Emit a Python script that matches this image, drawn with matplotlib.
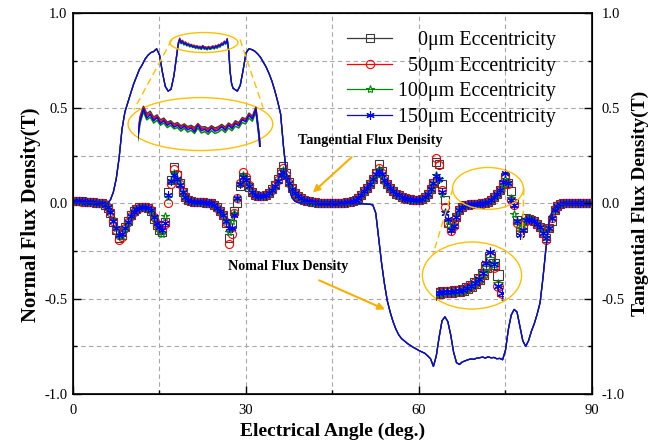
import numpy as np
import matplotlib
matplotlib.use("Agg")
import matplotlib.pyplot as plt
from matplotlib.patches import Ellipse
from matplotlib.lines import Line2D
from matplotlib.ticker import MultipleLocator, FormatStrFormatter

plt.rcParams['font.family'] = ['Liberation Serif', 'DejaVu Serif']

# eccentricity cases
labels = ["0μm Eccentricity", "50μm Eccentricity", "100μm Eccentricity", "150μm Eccentricity"]
colors = ["#3a3a3a", "#ff0000", "#008a00", "#0000ff"]
markers = ["s", "o", "*", (6, 2, 0)]

# normal flux density sample angles (finer on the top plateau)
angle_n = np.concatenate([np.arange(0, 18, 0.5), np.arange(18, 28, 0.25), np.linspace(28, 90, 125)])

# rising flank, 0 .. 17.5 deg (same for all cases)
normal_rise = [
    0.002, 0.003, 0.002, 0.003, 0.002, 0.002, 0.001, 0.002, 0.001, 0.000,
    0.000, -0.002, 0.000, 0.020, 0.060, 0.130, 0.240, 0.390, 0.480, 0.530,
    0.578, 0.626, 0.664, 0.703, 0.728, 0.758, 0.778, 0.792, 0.798, 0.812,
    0.780, 0.690, 0.615, 0.590, 0.600, 0.670]

# plateau 18 .. 27.75 deg, one row per eccentricity
plateau_0 = [
    0.785, 0.845, 0.868, 0.852, 0.857, 0.844, 0.849, 0.838, 0.842, 0.833,
    0.836, 0.829, 0.832, 0.825, 0.829, 0.823, 0.826, 0.821, 0.830, 0.822,
    0.823, 0.819, 0.825, 0.820, 0.823, 0.828, 0.822, 0.831, 0.826, 0.836,
    0.832, 0.843, 0.840, 0.853, 0.846, 0.866, 0.805, 0.695, 0.632, 0.606]
plateau_50 = [
    0.782, 0.840, 0.865, 0.848, 0.853, 0.840, 0.846, 0.834, 0.839, 0.830,
    0.833, 0.826, 0.829, 0.822, 0.826, 0.820, 0.823, 0.817, 0.828, 0.818,
    0.820, 0.815, 0.822, 0.817, 0.820, 0.825, 0.819, 0.828, 0.823, 0.833,
    0.829, 0.840, 0.837, 0.850, 0.843, 0.864, 0.802, 0.692, 0.631, 0.605]
plateau_100 = [
    0.776, 0.830, 0.856, 0.838, 0.844, 0.831, 0.837, 0.826, 0.831, 0.821,
    0.826, 0.818, 0.821, 0.813, 0.819, 0.811, 0.815, 0.808, 0.820, 0.809,
    0.812, 0.806, 0.814, 0.808, 0.811, 0.817, 0.810, 0.820, 0.814, 0.824,
    0.820, 0.832, 0.829, 0.842, 0.835, 0.856, 0.795, 0.685, 0.628, 0.604]
plateau_150 = [
    0.780, 0.835, 0.862, 0.842, 0.850, 0.836, 0.843, 0.830, 0.836, 0.826,
    0.831, 0.822, 0.826, 0.818, 0.824, 0.816, 0.820, 0.812, 0.826, 0.814,
    0.817, 0.811, 0.820, 0.813, 0.816, 0.823, 0.815, 0.826, 0.819, 0.830,
    0.825, 0.838, 0.834, 0.848, 0.840, 0.862, 0.800, 0.690, 0.630, 0.605]

# 28 .. 90 deg (same for all cases)
normal_fall = [
    0.600, 0.590, 0.620, 0.700, 0.790, 0.812, 0.808, 0.800, 0.786, 0.768,
    0.742, 0.716, 0.682, 0.642, 0.592, 0.535, 0.470, 0.300, 0.160, 0.075,
    0.030, 0.012, 0.005, 0.003, 0.002, 0.002, 0.001, 0.002, 0.001, 0.001,
    0.001, 0.000, 0.001, 0.000, 0.000, 0.001, 0.000, -0.001, 0.000, -0.001,
    -0.001, 0.000, -0.001, -0.002, -0.001, -0.002, -0.003, -0.004, -0.008, -0.050,
    -0.180, -0.310, -0.420, -0.510, -0.570, -0.620, -0.660, -0.690, -0.710, -0.722,
    -0.735, -0.745, -0.755, -0.763, -0.772, -0.779, -0.786, -0.800, -0.815, -0.855,
    -0.800, -0.700, -0.615, -0.595, -0.620, -0.690, -0.780, -0.835, -0.845, -0.832,
    -0.826, -0.820, -0.816, -0.818, -0.812, -0.810, -0.806, -0.811, -0.805, -0.810,
    -0.808, -0.815, -0.813, -0.820, -0.770, -0.660, -0.585, -0.556, -0.570, -0.645,
    -0.720, -0.750, -0.720, -0.670, -0.630, -0.580, -0.520, -0.390, -0.240, -0.110,
    -0.050, -0.020, -0.008, -0.003, -0.001, 0.000, 0.000, 0.000, 0.000, 0.000,
    0.000, 0.000, 0.000, 0.000, 0.000]

plateaus = [plateau_0, plateau_50, plateau_100, plateau_150]
normal = [np.concatenate([normal_rise, p, normal_fall]) for p in plateaus]

# tangential flux density, every 0.5 deg
angle_t = np.linspace(0, 90, 181)

tang_0 = [
    0.012, 0.013, 0.011, 0.011, 0.010, 0.009, 0.008, 0.007, 0.005, 0.003,
    0.000, -0.006, -0.022, -0.050, -0.095, -0.140, -0.180, -0.165, -0.125, -0.090,
    -0.060, -0.040, -0.028, -0.020, -0.017, -0.018, -0.024, -0.038, -0.080, -0.115,
    -0.140, -0.150, -0.095, 0.060, 0.125, 0.190, 0.150, 0.105, 0.060, 0.035,
    0.020, 0.013, 0.009, 0.007, 0.007, 0.006, 0.005, 0.004, 0.000, -0.008,
    -0.020, -0.038, -0.060, -0.100, -0.180, -0.110, -0.040, 0.004, 0.090, 0.140,
    0.125, 0.085, 0.058, 0.045, 0.040, 0.038, 0.041, 0.047, 0.057, 0.074,
    0.097, 0.130, 0.165, 0.195, 0.160, 0.115, 0.082, 0.056, 0.040, 0.028,
    0.020, 0.015, 0.011, 0.008, 0.006, 0.005, 0.004, 0.004, 0.003, 0.003,
    0.003, 0.003, 0.003, 0.004, 0.005, 0.006, 0.008, 0.011, 0.017, 0.027,
    0.045, 0.064, 0.083, 0.102, 0.128, 0.160, 0.205, 0.170, 0.128, 0.100,
    0.080, 0.066, 0.052, 0.042, 0.034, 0.028, 0.024, 0.021, 0.019, 0.018,
    0.017, 0.022, 0.032, 0.050, 0.078, 0.110, 0.220, 0.205, 0.100, 0.020,
    -0.100, -0.130, -0.110, -0.070, -0.035, -0.018, -0.010, -0.007, -0.005, -0.004,
    -0.003, -0.002, 0.000, 0.003, 0.010, 0.020, 0.032, 0.048, 0.070, 0.100,
    0.140, 0.110, 0.065, 0.000, -0.085, -0.150, -0.130, -0.075, -0.080, -0.085,
    -0.093, -0.105, -0.125, -0.155, -0.180, -0.130, -0.093, -0.035, -0.015, -0.005,
    0.000, 0.002, 0.003, 0.004, 0.004, 0.004, 0.004, 0.004, 0.004, 0.004, 0.004]
tang_50 = [
    0.012, 0.012, 0.012, 0.010, 0.010, 0.009, 0.008, 0.006, 0.005, 0.002,
    0.000, -0.005, -0.020, -0.045, -0.090, -0.140, -0.190, -0.175, -0.130, -0.095,
    -0.065, -0.045, -0.030, -0.022, -0.018, -0.020, -0.025, -0.035, -0.072, -0.105,
    -0.130, -0.140, -0.110, 0.005, 0.100, 0.180, 0.155, 0.100, 0.060, 0.036,
    0.020, 0.013, 0.009, 0.007, 0.006, 0.006, 0.005, 0.003, 0.000, -0.008,
    -0.022, -0.040, -0.058, -0.095, -0.215, -0.160, -0.050, 0.030, 0.110, 0.165,
    0.140, 0.095, 0.062, 0.046, 0.040, 0.038, 0.040, 0.046, 0.056, 0.072,
    0.095, 0.125, 0.160, 0.185, 0.150, 0.110, 0.080, 0.055, 0.040, 0.028,
    0.020, 0.015, 0.011, 0.008, 0.006, 0.005, 0.004, 0.004, 0.003, 0.003,
    0.003, 0.003, 0.003, 0.004, 0.005, 0.006, 0.008, 0.011, 0.017, 0.027,
    0.045, 0.063, 0.082, 0.100, 0.126, 0.158, 0.185, 0.160, 0.125, 0.100,
    0.080, 0.066, 0.052, 0.042, 0.034, 0.028, 0.024, 0.021, 0.019, 0.018,
    0.017, 0.022, 0.032, 0.050, 0.078, 0.108, 0.240, 0.200, 0.073, -0.020,
    -0.100, -0.145, -0.120, -0.070, -0.035, -0.018, -0.010, -0.007, -0.005, -0.004,
    -0.003, -0.002, 0.000, 0.003, 0.010, 0.020, 0.032, 0.048, 0.070, 0.100,
    0.135, 0.100, 0.020, -0.010, -0.100, -0.130, -0.120, -0.090, -0.080, -0.085,
    -0.093, -0.105, -0.125, -0.155, -0.190, -0.130, -0.075, -0.035, -0.015, -0.005,
    0.000, 0.002, 0.003, 0.004, 0.004, 0.004, 0.004, 0.004, 0.004, 0.004, 0.004]
tang_100 = [
    0.011, 0.012, 0.011, 0.010, 0.009, 0.009, 0.007, 0.006, 0.004, 0.002,
    0.001, -0.005, -0.018, -0.042, -0.085, -0.130, -0.170, -0.170, -0.135, -0.100,
    -0.068, -0.047, -0.031, -0.023, -0.019, -0.021, -0.027, -0.040, -0.078, -0.115,
    -0.140, -0.160, -0.065, 0.035, 0.120, 0.160, 0.130, 0.100, 0.062, 0.034,
    0.019, 0.012, 0.008, 0.007, 0.006, 0.005, 0.004, 0.003, -0.001, -0.009,
    -0.024, -0.042, -0.060, -0.090, -0.150, -0.090, -0.050, 0.030, 0.100, 0.150,
    0.130, 0.090, 0.060, 0.045, 0.039, 0.037, 0.039, 0.045, 0.055, 0.071,
    0.094, 0.122, 0.155, 0.175, 0.145, 0.110, 0.078, 0.055, 0.039, 0.027,
    0.019, 0.014, 0.010, 0.007, 0.005, 0.004, 0.004, 0.003, 0.003, 0.002,
    0.002, 0.003, 0.003, 0.003, 0.004, 0.006, 0.008, 0.011, 0.016, 0.026,
    0.044, 0.062, 0.081, 0.100, 0.125, 0.155, 0.180, 0.155, 0.122, 0.098,
    0.079, 0.065, 0.051, 0.041, 0.033, 0.027, 0.023, 0.020, 0.018, 0.017,
    0.016, 0.021, 0.031, 0.049, 0.076, 0.105, 0.150, 0.130, 0.050, -0.045,
    -0.090, -0.130, -0.115, -0.068, -0.034, -0.017, -0.010, -0.007, -0.005, -0.004,
    -0.003, -0.002, 0.000, 0.003, 0.009, 0.019, 0.031, 0.047, 0.068, 0.095,
    0.130, 0.110, 0.030, -0.055, -0.090, -0.130, -0.115, -0.085, -0.078, -0.083,
    -0.091, -0.103, -0.123, -0.152, -0.178, -0.128, -0.073, -0.034, -0.014, -0.005,
    0.000, 0.002, 0.003, 0.003, 0.004, 0.004, 0.004, 0.004, 0.004, 0.004, 0.004]
tang_150 = [
    0.012, 0.012, 0.011, 0.011, 0.010, 0.009, 0.008, 0.007, 0.005, 0.003,
    0.000, -0.006, -0.020, -0.045, -0.090, -0.130, -0.165, -0.160, -0.130, -0.095,
    -0.064, -0.044, -0.030, -0.022, -0.018, -0.020, -0.026, -0.036, -0.070, -0.100,
    -0.125, -0.140, -0.100, 0.045, 0.120, 0.150, 0.130, 0.095, 0.058, 0.034,
    0.020, 0.013, 0.009, 0.007, 0.007, 0.006, 0.005, 0.004, 0.000, -0.008,
    -0.022, -0.040, -0.058, -0.090, -0.130, -0.130, -0.060, 0.030, 0.100, 0.140,
    0.125, 0.090, 0.060, 0.046, 0.040, 0.038, 0.040, 0.046, 0.056, 0.072,
    0.093, 0.120, 0.150, 0.165, 0.140, 0.105, 0.078, 0.054, 0.039, 0.027,
    0.020, 0.015, 0.011, 0.008, 0.006, 0.005, 0.004, 0.004, 0.003, 0.003,
    0.003, 0.003, 0.003, 0.004, 0.005, 0.006, 0.008, 0.011, 0.017, 0.027,
    0.045, 0.063, 0.082, 0.100, 0.126, 0.155, 0.170, 0.155, 0.122, 0.100,
    0.080, 0.066, 0.052, 0.042, 0.034, 0.028, 0.024, 0.021, 0.019, 0.018,
    0.017, 0.022, 0.032, 0.050, 0.078, 0.108, 0.145, 0.130, 0.060, -0.050,
    -0.080, -0.140, -0.120, -0.070, -0.035, -0.018, -0.010, -0.007, -0.005, -0.004,
    -0.003, -0.002, 0.000, 0.003, 0.010, 0.020, 0.032, 0.048, 0.072, 0.115,
    0.160, 0.110, 0.020, -0.010, -0.090, -0.165, -0.140, -0.085, -0.080, -0.085,
    -0.093, -0.105, -0.125, -0.155, -0.180, -0.130, -0.075, -0.035, -0.015, -0.005,
    0.000, 0.002, 0.003, 0.004, 0.004, 0.004, 0.004, 0.004, 0.004, 0.004, 0.004]

tangential = [tang_0, tang_50, tang_100, tang_150]

orange = "#ffc000"
arrow_orange = "#f7b000"

fig = plt.figure(figsize=(6.63, 4.45), dpi=100)
ax = fig.add_axes([0.1101, 0.1146, 0.7828, 0.8562])

# tangential points first, normal curves on top
for i in range(4):
    ax.plot(angle_t, tangential[i], linestyle="none", marker=markers[i], ms=5.8,
            mfc="none", mec=colors[i], mew=0.8, zorder=3)
for i in range(4):
    ax.plot(angle_n, normal[i], color=colors[i], lw=0.9, zorder=4)

ax.set_xlim(0, 90)
ax.set_ylim(-1, 1)
ax.xaxis.set_major_locator(MultipleLocator(30))
ax.xaxis.set_minor_locator(MultipleLocator(15))
ax.yaxis.set_major_locator(MultipleLocator(0.5))
ax.yaxis.set_minor_locator(MultipleLocator(0.25))
ax.grid(True, which="both", color="#a8a8a8", linestyle=(0, (4, 3)), linewidth=0.8)
ax.tick_params(which="both", direction="in", labelsize=10.5, width=1, top=False)
ax.tick_params(which="major", length=6)
ax.tick_params(which="minor", length=3)
ax.tick_params(axis="y", pad=4)
ax.tick_params(axis="x", pad=7)
ax.yaxis.set_major_formatter(FormatStrFormatter("%.1f"))
for s in ax.spines.values():
    s.set_linewidth(1.2)

ax.set_xlabel("Electrical Angle (deg.)", fontsize=14, fontweight="bold")
ax.xaxis.set_label_coords(0.5, -0.075)
ax.set_ylabel("Normal Flux Density(T)", fontsize=15, fontweight="bold")
ax.yaxis.set_label_coords(-0.062, 0.47)

ax2 = ax.twinx()
ax2.set_ylim(-1, 1)
ax2.yaxis.set_major_locator(MultipleLocator(0.5))
ax2.yaxis.set_minor_locator(MultipleLocator(0.25))
ax2.yaxis.set_major_formatter(FormatStrFormatter("%.1f"))
ax2.tick_params(which="both", direction="in", labelsize=10.5, width=1, pad=7)
ax2.tick_params(which="major", length=6)
ax2.tick_params(which="minor", length=3)
ax2.set_ylabel("Tangential Flux Density(T)", fontsize=14, fontweight="bold")
ax2.yaxis.set_label_coords(1.077, 0.50)

# legend, labels right-aligned by padding the shorter numbers
handles = [Line2D([], [], color=colors[i], lw=0.9, marker=markers[i], ms=6,
                  mfc="none", mec=colors[i], mew=0.8) for i in range(4)]
padded = ["  " * (3 - len(lab.split("μ")[0])) + lab for lab in labels]
ax.legend(handles, padded, loc="upper left", bbox_to_anchor=(0.528, 0.952),
          frameon=False, fontsize=14.4, handlelength=2.25, handletextpad=0.3,
          labelspacing=0.33, borderpad=0, borderaxespad=0)

# zoom marks: small ellipse around the detail, big one around the magnified copy
ax.add_patch(Ellipse((22.7, 0.845), 11.8, 0.105, fill=False, ec=orange, lw=1.0, zorder=6))
ax.add_patch(Ellipse((22.1, 0.417), 25.1, 0.278, fill=False, ec=orange, lw=1.0, zorder=6))
ax.add_patch(Ellipse((71.96, 0.079), 12.3, 0.22, fill=False, ec=orange, lw=1.0, zorder=6))
ax.add_patch(Ellipse((69.19, -0.378), 17.2, 0.352, fill=False, ec=orange, lw=1.0, zorder=6))
dash = dict(color=orange, lw=1.0, linestyle=(0, (5, 3)), zorder=6)
ax.plot([17.16, 10.58], [0.861, 0.493], **dash)
ax.plot([28.96, 32.95], [0.861, 0.504], **dash)
ax.plot([65.89, 62.42], [0.079, -0.268], **dash)
ax.plot([78.2, 77.86], [0.079, -0.215], **dash)

ax.annotate("Tangential Flux Density", xy=(41.6, 0.058), xytext=(51.5, 0.331),
            ha="center", va="center", fontsize=10.2, fontweight="bold",
            arrowprops=dict(arrowstyle="-|>", color=arrow_orange, lw=1.5,
                            mutation_scale=10, shrinkA=8, shrinkB=0), zorder=7)
ax.annotate("Nomal Flux Density", xy=(54.1, -0.556), xytext=(37.3, -0.331),
            ha="center", va="center", fontsize=10.2, fontweight="bold",
            arrowprops=dict(arrowstyle="-|>", color=arrow_orange, lw=1.5,
                            mutation_scale=10, shrinkA=8, shrinkB=0), zorder=7)

# magnified plateau of the normal component
ins1 = fig.add_axes([0.2081, 0.6697, 0.1870, 0.0944])
ins1.set_axis_off()
ins1.patch.set_alpha(0)
for i in range(4):
    ins1.plot(angle_n, normal[i], color=colors[i], lw=1.1)
ins1.set_xlim(18.1, 27.2)
ins1.set_ylim(0.778, 0.871)

# magnified tangential hump near 75 deg
ins2 = fig.add_axes([0.6576, 0.3258, 0.1011, 0.1348])
ins2.set_axis_off()
ins2.patch.set_alpha(0)
for i in range(4):
    ins2.plot(angle_t, tangential[i], linestyle="none", marker=markers[i], ms=7,
              mfc="none", mec=colors[i], mew=0.8)
ins2.set_xlim(68.1, 76.6)
ins2.set_ylim(-0.038, 0.21)

fig.savefig("out.png", dpi=100)
